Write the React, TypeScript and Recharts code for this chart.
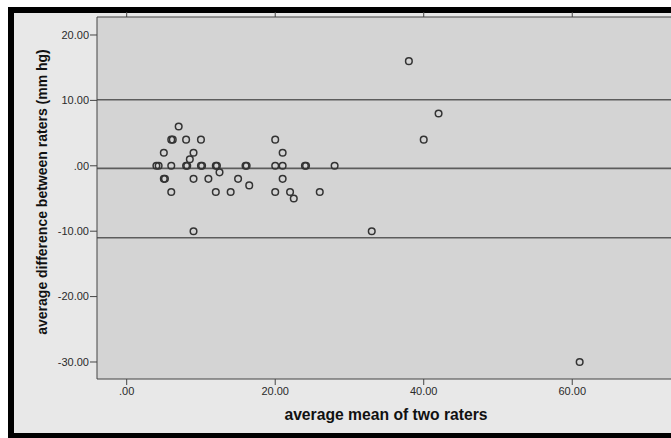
import React from 'react';
import { ScatterChart, Scatter, XAxis, YAxis, CartesianGrid, ReferenceLine } from 'recharts';

// average of the two raters' readings (mm hg)
const meanOfRaters = [
  4, 4.3, 7, 6, 6.2, 8, 10, 5, 9, 8.5, 6, 8, 8.15, 10, 10.15, 12, 12.15, 12.5, 16, 16.15,
  20, 21, 20, 21, 24, 24.15, 28, 5, 5.15, 9, 11, 15, 16.5, 21, 6, 12, 14, 20, 22, 22.5,
  26, 9, 33, 38, 40, 42, 61,
];
// difference between the raters (mm hg)
const diffOfRaters = [
  0, 0, 6, 4, 4, 4, 4, 2, 2, 1, 0, 0, 0, 0, 0, 0, 0, -1, 0, 0,
  4, 2, 0, 0, 0, 0, 0, -2, -2, -2, -2, -2, -3, -2, -4, -4, -4, -4, -4, -5,
  -4, -10, -10, 16, 4, 8, -30,
];
// mean difference and the two limits of agreement
const limitLines = [10.1, -0.4, -11.0];

const xTicks = [0, 20, 40, 60];
const yTicks = [-30, -20, -10, 0, 10, 20];

const points = meanOfRaters.map((m, i) => ({ mean: m, diff: diffOfRaters[i] }));

const fmt = (v: number) => v.toFixed(2).replace(/^(-?)0\./, '$1.');

const font = '"Liberation Sans", Arial, sans-serif';
const axisColor = '#444';

const Ring = (props: any) => {
  const { cx, cy } = props;
  if (cx == null || cy == null) return null;
  return <circle cx={cx} cy={cy} r={3.3} fill="none" stroke="#333" strokeWidth={1.5} />;
};

const YTitle = (props: any) => {
  const vb = props.viewBox || { x: 0, y: 17, width: 97, height: 362 };
  const x = vb.x + 42;
  const y = vb.y + vb.height / 2 - 6;
  return (
    <text x={x} y={y} transform={`rotate(-90 ${x} ${y})`} textAnchor="middle" dominantBaseline="central"
      fontFamily={font} fontWeight="bold" fontSize={14} fill="#111">
      average difference between raters (mm hg)
    </text>
  );
};

const XTitle = (props: any) => {
  const vb = props.viewBox || { x: 97, y: 379, width: 574, height: 59 };
  const x = vb.x + vb.width / 2 + 2;
  const y = vb.y + 35;
  return (
    <text x={x} y={y} textAnchor="middle" dominantBaseline="central"
      fontFamily={font} fontWeight="bold" fontSize={15.7} fill="#111">
      average mean of two raters
    </text>
  );
};

const tickStyle = { fontFamily: font, fontSize: 11, fill: '#2a2a2a' };

export default function App() {
  return (
    <div style={{ position: 'absolute', left: 0, top: 0, width: 671, height: 438, overflow: 'hidden', background: '#fff' }}>
      <div
        style={{
          position: 'absolute', left: 8, top: 7, width: 720, height: 431, boxSizing: 'border-box',
          borderTop: '6px solid #000', borderLeft: '6px solid #000', borderBottom: '5px solid #000',
          background: '#e8e8e8',
        }}
      />
      <div style={{ position: 'absolute', left: 0, top: 0 }}>
        <ScatterChart width={671} height={438} margin={{ top: 12, right: 0, bottom: 0, left: 0 }}>
          <CartesianGrid horizontal={false} vertical={false} fill="#d4d4d4" />
          <XAxis
            xAxisId="bottom"
            dataKey="mean"
            type="number"
            domain={[-4, 73.3]}
            allowDataOverflow
            ticks={xTicks}
            tickFormatter={fmt}
            height={59}
            tickSize={6}
            tickMargin={2}
            stroke={axisColor}
            tick={tickStyle}
            label={(p: any) => <XTitle viewBox={p.viewBox} />}
          />
          <XAxis
            xAxisId="top"
            orientation="top"
            dataKey="mean"
            type="number"
            domain={[-4, 73.3]}
            allowDataOverflow
            ticks={xTicks}
            tickFormatter={() => ''}
            height={5}
            tickSize={5}
            stroke={axisColor}
          />
          <YAxis
            dataKey="diff"
            type="number"
            domain={[-32.6, 22.75]}
            allowDataOverflow
            ticks={yTicks}
            tickFormatter={fmt}
            width={97}
            tickSize={7}
            tickMargin={1}
            stroke={axisColor}
            tick={tickStyle}
            label={(p: any) => <YTitle viewBox={p.viewBox} />}
          />
          {limitLines.map((v) => (
            <ReferenceLine key={v} y={v} xAxisId="bottom" stroke="#5c5c5c" strokeWidth={1.6} />
          ))}
          <Scatter data={points} xAxisId="bottom" shape={<Ring />} isAnimationActive={false} />
        </ScatterChart>
      </div>
    </div>
  );
}
